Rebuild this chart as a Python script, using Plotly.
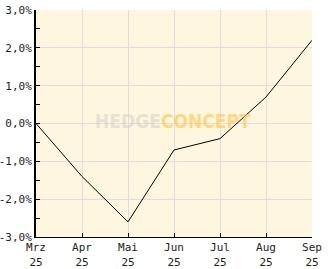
import plotly.graph_objects as go

months = ["Mrz<br>25", "Apr<br>25", "Mai<br>25", "Jun<br>25", "Jul<br>25", "Aug<br>25", "Sep<br>25"]
values = [0.0, -1.4, -2.6, -0.7, -0.4, 0.7, 2.2]
y_ticks = [-3, -2, -1, 0, 1, 2, 3]
y_labels = ["-3,0%", "-2,0%", "-1,0%", "0,0%", "1,0%", "2,0%", "3,0%"]

xs = list(range(len(months)))

fig = go.Figure()
fig.add_trace(go.Scatter(x=xs, y=values, mode="lines",
                         line=dict(color="black", width=1), hoverinfo="skip"))

font = dict(family="DejaVu Sans Mono", size=11, color="#222")

fig.update_layout(
    width=332, height=269,
    margin=dict(l=36, r=20, t=10, b=32),
    paper_bgcolor="white", plot_bgcolor="#FFF6DF",
    showlegend=False, font=font,
    xaxis=dict(range=[0, 6], tickvals=xs, ticktext=months, showgrid=True,
               gridcolor="#DEDEDE", gridwidth=1, zeroline=False,
               showline=True, linecolor="black", linewidth=1,
               ticks="inside", ticklen=4, tickcolor="black", tickfont=font,
               automargin=False, fixedrange=True),
    yaxis=dict(range=[-3, 3], tickvals=y_ticks, ticktext=y_labels, showgrid=True,
               gridcolor="#DEDEDE", gridwidth=1, zeroline=False,
               showline=True, linecolor="black", linewidth=2,
               ticks="inside", ticklen=4, tickcolor="black", tickfont=font,
               minor=dict(dtick=0.5, tick0=0, ticks="inside", ticklen=4, tickcolor="black", showgrid=False),
               automargin=False, fixedrange=True),
    annotations=[dict(
        x=0.496, y=0.511, xref="paper", yref="paper", showarrow=False,
        text="<span style='color:rgba(215,212,205,0.6)'>HEDGE</span><span style='color:rgba(255,196,80,0.65)'>CONCEPT</span>",
        font=dict(family="DejaVu Sans Condensed", size=19, weight="bold"),
    )],
)

fig.write_html("out.html")
